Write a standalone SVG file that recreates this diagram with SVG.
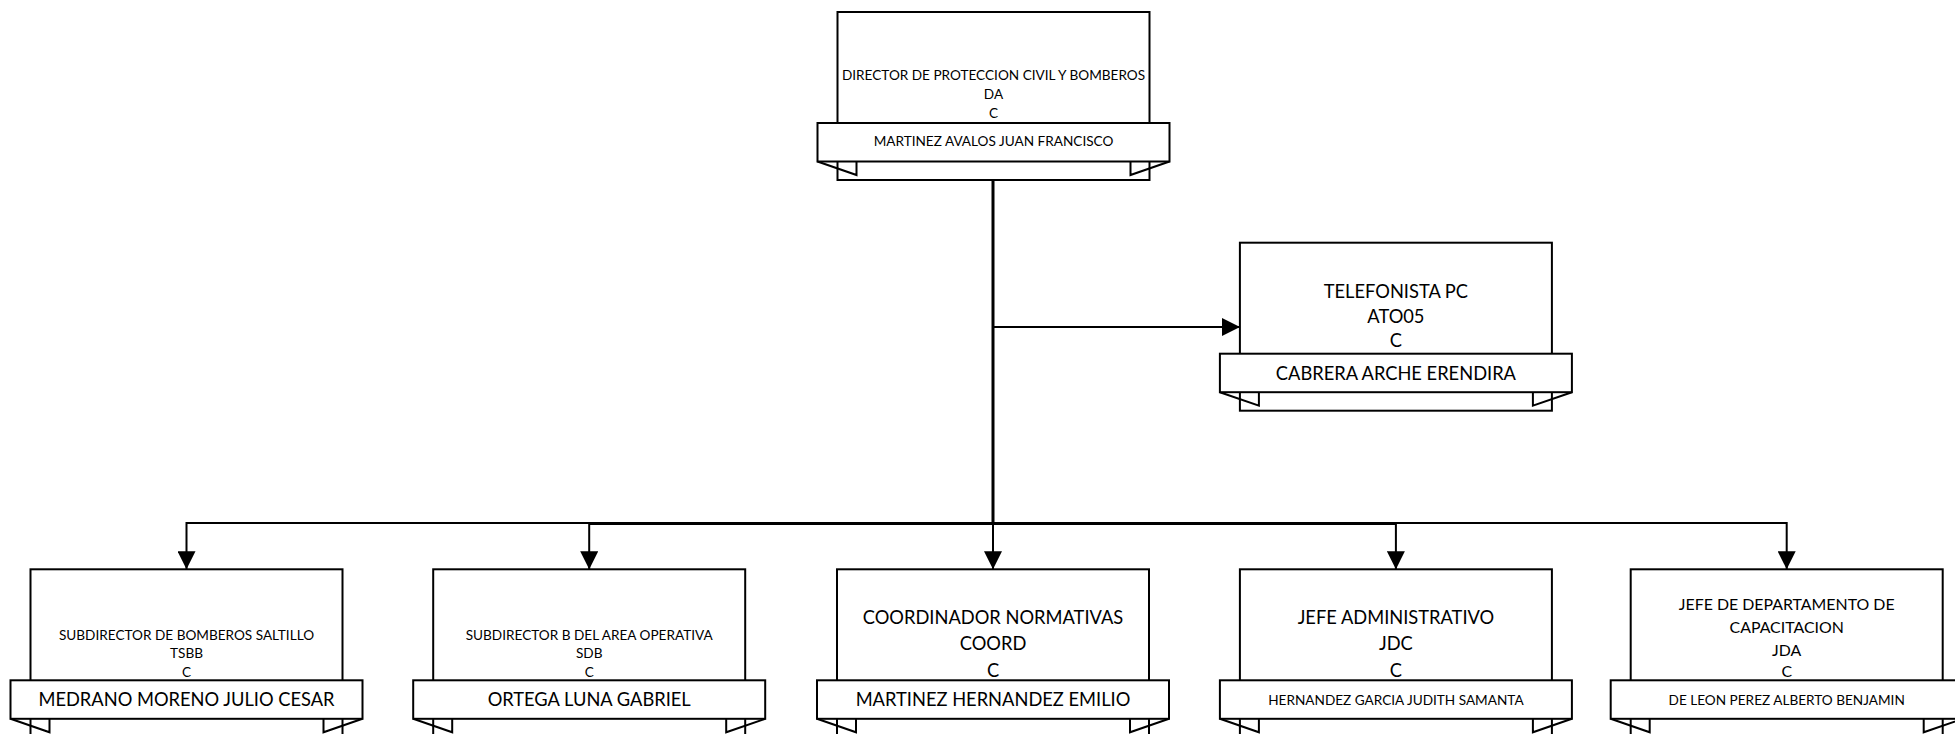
<svg xmlns="http://www.w3.org/2000/svg" width="1955" height="734" viewBox="0 0 1955 734">
<defs>
<style>
.bk{fill:#fff;stroke:#000;stroke-width:2}
.bn{fill:#fff;stroke:#000;stroke-width:2}
.tb{fill:none;stroke:#000;stroke-width:2}
.cn{fill:none;stroke:#000;stroke-width:2}
text{font-family:Lato,"Liberation Sans",sans-serif;fill:#000;text-anchor:middle;dominant-baseline:central}
.s{font-size:13.6px}
.m{font-size:15.9px}
.l{font-size:18.3px}
</style>
<marker id="ah" markerUnits="userSpaceOnUse" markerWidth="18" markerHeight="18" refX="18" refY="9" orient="auto">
<path d="M0,0 L18,9 L0,18 Z" fill="#000"/>
</marker>
</defs>
<rect width="1955" height="734" fill="#fff"/>
<g id="connectors">
<path class="cn" d="M993 327 H1240" marker-end="url(#ah)"/>
<path class="cn" d="M993 523 H186.5 V569.3" marker-end="url(#ah)"/>
<path class="cn" d="M993 524 H589.2 V569.3" marker-end="url(#ah)"/>
<path class="cn" d="M993 524 V569.3" marker-end="url(#ah)"/>
<path class="cn" d="M993 524 H1395.9 V569.3" marker-end="url(#ah)"/>
<path class="cn" d="M993 523 H1786.7 V569.3" marker-end="url(#ah)"/>
<path class="cn" d="M993 180 V524" style="stroke-width:3"/>
</g>
<g id="n-director">
<rect class="bk" x="837.5" y="12" width="312" height="168"/>
<path class="tb" d="M817.5 161.5 L856.5 175 V161.5 M1169.5 161.5 L1130.5 175 V161.5"/>
<rect class="bn" x="817.5" y="123" width="352" height="38.5"/>
<text class="s" x="993.5" y="75">DIRECTOR DE PROTECCION CIVIL Y BOMBEROS</text>
<text class="s" x="993.5" y="94">DA</text>
<text class="s" x="993.5" y="113">C</text>
<text class="s" x="993.5" y="141">MARTINEZ AVALOS JUAN FRANCISCO</text>
</g>
<g id="n-telefonista">
<rect class="bk" x="1239.9" y="242.7" width="312" height="168"/>
<path class="tb" d="M1219.9 392.2 L1258.9 405.7 V392.2 M1571.9 392.2 L1532.9 405.7 V392.2"/>
<rect class="bn" x="1219.9" y="353.7" width="352" height="38.5"/>
<text class="l" x="1395.9" y="291">TELEFONISTA PC</text>
<text class="l" x="1395.9" y="315.5">ATO05</text>
<text class="l" x="1395.9" y="340">C</text>
<text class="l" x="1395.9" y="372.5">CABRERA ARCHE ERENDIRA</text>
</g>
<g id="n-sub-bomberos">
<rect class="bk" x="30.5" y="569.3" width="312" height="168"/>
<path class="tb" d="M10.5 718.8 L49.5 732.3 V718.8 M362.5 718.8 L323.5 732.3 V718.8"/>
<rect class="bn" x="10.5" y="680.3" width="352" height="38.5"/>
<text class="s" x="186.5" y="634.6">SUBDIRECTOR DE BOMBEROS SALTILLO</text>
<text class="s" x="186.5" y="653.3">TSBB</text>
<text class="s" x="186.5" y="672">C</text>
<text class="l" x="186.5" y="699">MEDRANO MORENO JULIO CESAR</text>
</g>
<g id="n-sub-operativa">
<rect class="bk" x="433.2" y="569.3" width="312" height="168"/>
<path class="tb" d="M413.2 718.8 L452.2 732.3 V718.8 M765.2 718.8 L726.2 732.3 V718.8"/>
<rect class="bn" x="413.2" y="680.3" width="352" height="38.5"/>
<text class="s" x="589.2" y="634.6">SUBDIRECTOR B DEL AREA OPERATIVA</text>
<text class="s" x="589.2" y="653.3">SDB</text>
<text class="s" x="589.2" y="672">C</text>
<text class="l" x="589.2" y="699">ORTEGA LUNA GABRIEL</text>
</g>
<g id="n-coordinador">
<rect class="bk" x="837" y="569.3" width="312" height="168"/>
<path class="tb" d="M817 718.8 L856 732.3 V718.8 M1169 718.8 L1130 732.3 V718.8"/>
<rect class="bn" x="817" y="680.3" width="352" height="38.5"/>
<text class="l" x="993" y="617">COORDINADOR NORMATIVAS</text>
<text class="l" x="993" y="643">COORD</text>
<text class="l" x="993" y="669.5">C</text>
<text class="l" x="993" y="699">MARTINEZ HERNANDEZ EMILIO</text>
</g>
<g id="n-jefe-admin">
<rect class="bk" x="1239.9" y="569.3" width="312" height="168"/>
<path class="tb" d="M1219.9 718.8 L1258.9 732.3 V718.8 M1571.9 718.8 L1532.9 732.3 V718.8"/>
<rect class="bn" x="1219.9" y="680.3" width="352" height="38.5"/>
<text class="l" x="1395.9" y="617">JEFE ADMINISTRATIVO</text>
<text class="l" x="1395.9" y="643">JDC</text>
<text class="l" x="1395.9" y="669.5">C</text>
<text class="s" x="1395.9" y="699.5">HERNANDEZ GARCIA JUDITH SAMANTA</text>
</g>
<g id="n-jefe-capacitacion">
<rect class="bk" x="1630.7" y="569.3" width="312" height="168"/>
<path class="tb" d="M1610.7 718.8 L1649.7 732.3 V718.8 M1962.7 718.8 L1923.7 732.3 V718.8"/>
<rect class="bn" x="1610.7" y="680.3" width="352" height="38.5"/>
<text class="m" x="1786.7" y="603.5">JEFE DE DEPARTAMENTO DE</text>
<text class="m" x="1786.7" y="626.5">CAPACITACION</text>
<text class="m" x="1786.7" y="649">JDA</text>
<text class="m" x="1786.7" y="670">C</text>
<text class="s" x="1786.7" y="699.5">DE LEON PEREZ ALBERTO BENJAMIN</text>
</g>
</svg>
